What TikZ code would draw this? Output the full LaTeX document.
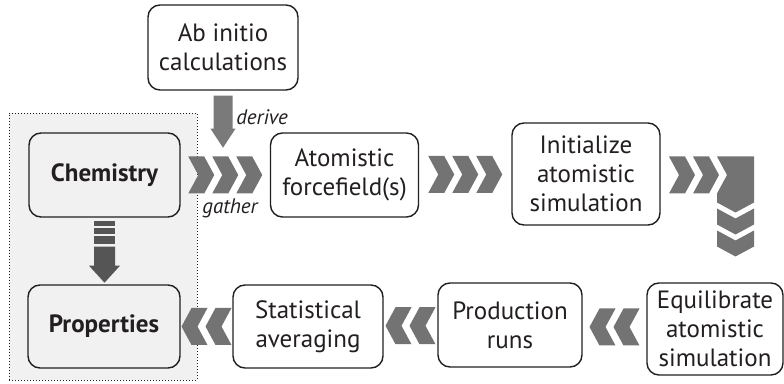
\documentclass[tikz,border=0pt]{standalone}
\usepackage{fontspec}
\setmainfont{PT Sans}
\usetikzlibrary{calc}

\definecolor{inkblack}{HTML}{231F20}
\definecolor{chevgray}{HTML}{737373}
\definecolor{arrowgray}{HTML}{7A7A7A}
\definecolor{darkarrow}{HTML}{555555}
\definecolor{areagray}{HTML}{F1F1F1}

\tikzset{
  chev/.pic={
    \fill[chevgray] (-13bp,18.5bp) -- (3bp,18.5bp) -- (13bp,0) -- (3bp,-18.5bp)
      -- (-13bp,-18.5bp) -- (-3bp,0) -- cycle;
  }
}

\begin{document}
\begin{tikzpicture}[line join=miter]
 \tikzstyle{procbox}=[draw=inkblack, line width=1.4bp, rounded corners=12bp, fill=white,
   align=center, text=inkblack, inner sep=0pt, minimum width=148bp, minimum height=84bp,
   font=\fontsize{25bp}{29bp}\selectfont]
 \tikzstyle{verb}=[text=inkblack, inner sep=0pt, font=\fontsize{21bp}{24bp}\selectfont\itshape]

 \useasboundingbox (0,0) rectangle (784bp,384bp);

 % shaded region for the chemistry/properties pair
 \node (area) at (103bp,137.5bp) [fill=areagray, draw=inkblack, line width=0.9bp,
   dash pattern=on 1.2bp off 1.8bp, minimum width=188bp, minimum height=267bp] {};

 \node (abinit) at (223bp,336.5bp) [procbox, minimum width=150bp, minimum height=85bp] {Ab initio\\calculations};
 \node (chem) at (104.5bp,209bp) [procbox, fill=areagray, minimum width=151bp] {\bfseries Chemistry};
 \node (atom) at (344.5bp,209bp) [procbox] {Atomistic\\forcefield(s)};
 \node (init) at (586bp,210bp) [procbox, minimum height=102bp] {Initialize\\atomistic\\simulation};
 \node (equil) at (715bp,55bp) [procbox, minimum width=136bp, minimum height=92bp] {Equilibrate\\atomistic\\simulation};
 \node (prod) at (510bp,59bp) [procbox, minimum width=144bp] {Production\\runs};
 \node (stat) at (308bp,57.5bp) [procbox, minimum width=150bp, minimum height=83bp] {Statistical\\averaging};
 \node (prop) at (104bp,57.5bp) [procbox, fill=areagray, minimum width=152bp, minimum height=83bp] {\bfseries Properties};

 \node (derive) at (262bp,267bp) [verb] {derive};
 \node (gather) at (230bp,176bp) [verb] {gather};

 % derive arrow
 \fill[arrowgray] ($(abinit.south)+(-9.5bp,-5bp)$) -- ++(19bp,0) -- ++(0,-33bp) -- ++(3bp,0)
   -- ++(-12.5bp,-19bp) -- ++(-12.5bp,19bp) -- ++(3bp,0) -- cycle;

 % chemistry -> properties
 \foreach \ya/\len in {3bp/5bp, 10bp/6bp, 18bp/8bp}
   \fill[darkarrow] ($(chem.south)+(-10.5bp,-\ya)$) rectangle ++(21bp,-\len);
 \fill[darkarrow] ($(chem.south)+(-10.5bp,-29bp)$) -- ++(21bp,0) -- ++(0,-19bp) -- ++(5bp,0)
   -- ++(-15.5bp,-17bp) -- ++(-15.5bp,17bp) -- ++(5bp,0) -- cycle;

 % chevrons along the top row
 \coordinate (m1) at ($(chem.east)!0.5!(atom.west)$);
 \coordinate (m2) at ($(atom.east)!0.5!(init.west)$);
 \foreach \k in {-1,0,1} {
   \pic at ($(m1)+(\k*24bp,0)$) {chev};
   \pic at ($(m2)+(\k*24bp,0)$) {chev};
 }

 % turning the corner
 \coordinate (bend) at (735.5bp,209bp);
 \pic at ($(bend)+(-53.5bp,0)$) {chev};
 \pic at ($(bend)+(-29.5bp,0)$) {chev};
 \fill[chevgray] ($(bend)+(-18.5bp,18.5bp)$) -- ++(37bp,0) -- ++(0,-46bp) -- ++(-18.5bp,-10bp)
   -- ++(-18.5bp,10bp) -- ++(0,9bp) -- ++(10bp,18.5bp) -- cycle;
 \pic[rotate=-90] at ($(bend)+(0,-46.5bp)$) {chev};
 \pic[rotate=-90] at ($(bend)+(0,-68.5bp)$) {chev};

 % chevrons along the bottom row
 \coordinate (m3) at ($(equil.west)!0.5!(prod.east)$);
 \coordinate (m4) at ($(prod.west)!0.5!(stat.east)$);
 \coordinate (m5) at ($(stat.west)!0.5!(prop.east)$);
 \foreach \mid in {m3,m4,m5}
   \foreach \k in {-1,1}
     \pic[rotate=180] at ($(\mid)+(\k*12bp,0)$) {chev};

\end{tikzpicture}
\end{document}
